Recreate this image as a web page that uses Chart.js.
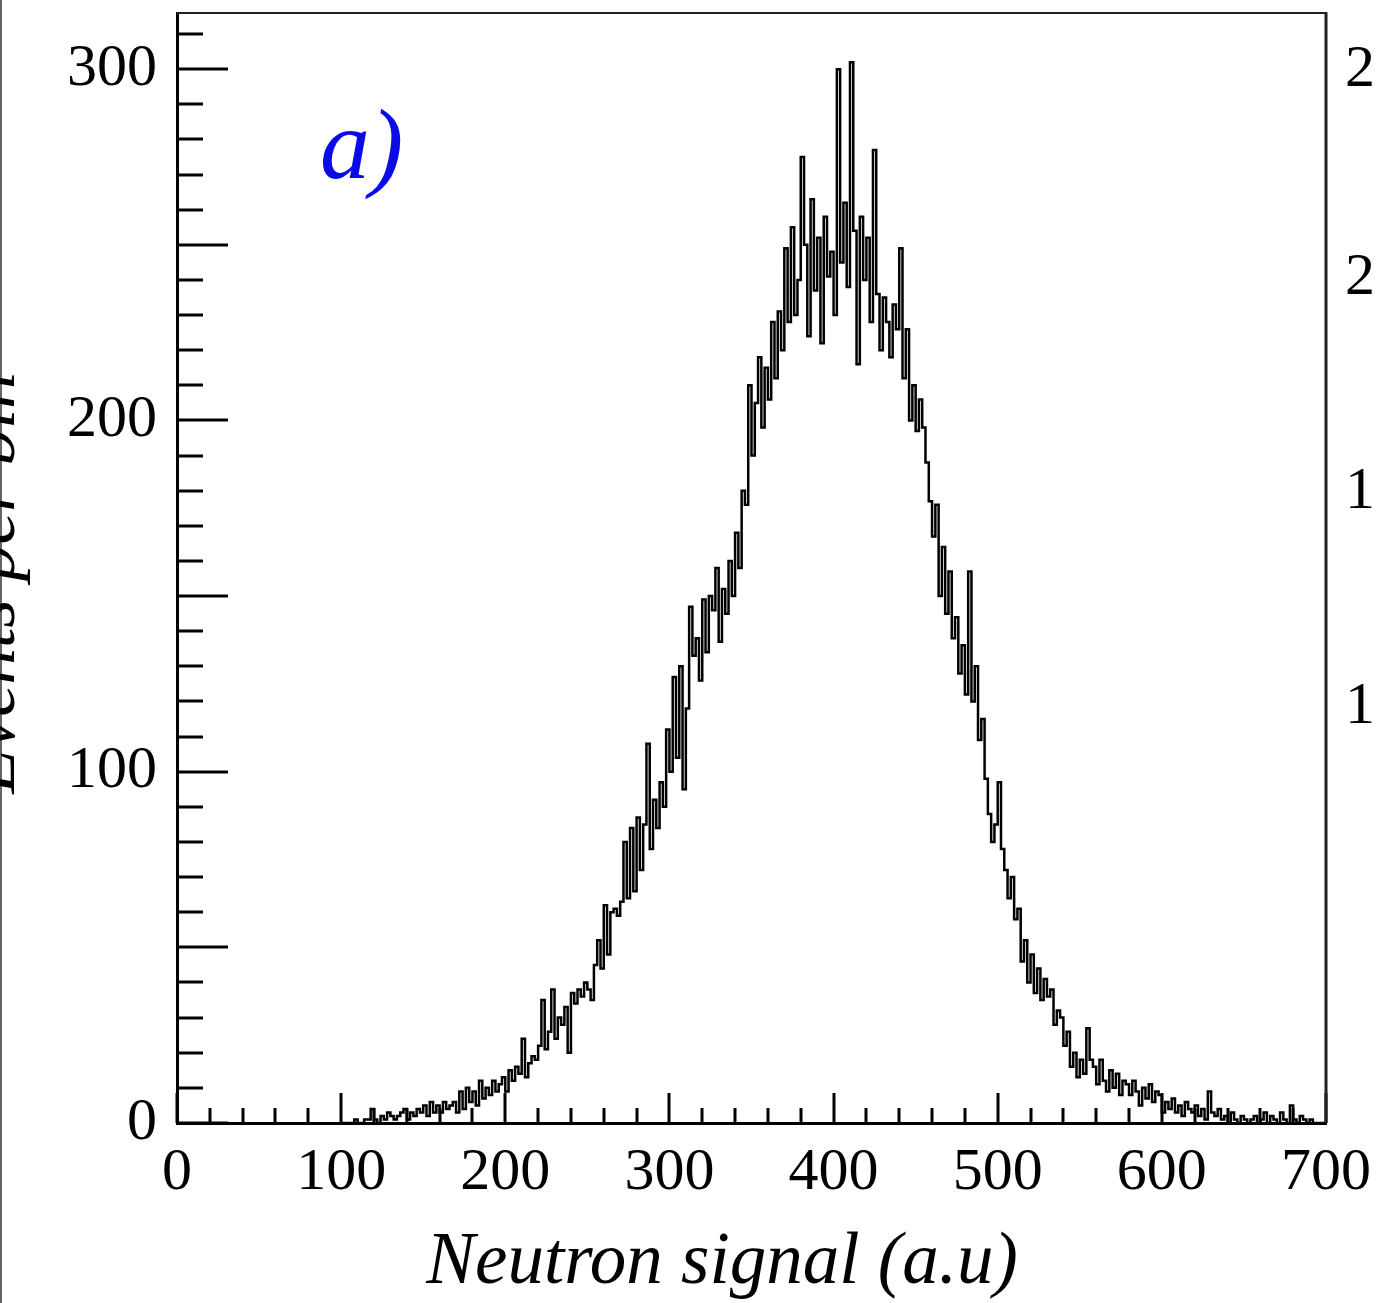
<!DOCTYPE html>
<html>
<head>
<meta charset="utf-8">
<title>Neutron signal</title>
<script src="https://cdn.jsdelivr.net/npm/chart.js@4.4.1/dist/chart.umd.min.js"></script>
<style>
    html, body { margin: 0; padding: 0; background: #fff; }
    #wrap { width: 1376px; height: 1303px; }
</style>
</head>
<body>
<div id="wrap"><canvas id="neutronChart" width="1376" height="1303"></canvas></div>
<script>
// histogram: bins of 2 a.u. starting at 100
const binStart = 100;
const binWidth = 2;
const counts = [
    0, 0, 0, 0, 0, 1, 0, 0, 1, 1,
    4, 1, 0, 2, 1, 3, 2, 1, 2, 3,
    4, 1, 3, 2, 4, 3, 5, 2, 6, 3,
    5, 3, 6, 4, 5, 6, 3, 9, 4, 10,
    6, 9, 5, 12, 7, 10, 8, 12, 9, 11,
    13, 9, 15, 12, 16, 14, 24, 13, 17, 19,
    18, 22, 35, 21, 26, 38, 24, 30, 28, 33,
    20, 37, 34, 38, 36, 40, 38, 35, 45, 52,
    44, 62, 48, 60, 61, 59, 63, 80, 64, 84,
    66, 87, 72, 85, 108, 78, 92, 84, 97, 90,
    112, 100, 127, 104, 130, 95, 118, 147, 133, 138,
    126, 149, 134, 150, 146, 158, 137, 152, 145, 160,
    150, 168, 158, 180, 176, 210, 190, 205, 218, 198,
    215, 206, 228, 212, 231, 220, 249, 228, 255, 230,
    240, 275, 250, 224, 263, 237, 252, 222, 258, 241,
    248, 230, 300, 245, 262, 238, 302, 254, 216, 258,
    240, 252, 228, 277, 236, 220, 235, 228, 218, 233,
    226, 249, 212, 226, 200, 210, 197, 206, 198, 188,
    177, 167, 176, 150, 164, 145, 157, 138, 144, 128,
    136, 122, 157, 120, 130, 109, 115, 98, 88, 80,
    85, 97, 78, 72, 64, 70, 58, 61, 46, 52,
    40, 48, 37, 44, 35, 41, 36, 38, 28, 32,
    30, 22, 26, 16, 20, 13, 18, 14, 27, 18,
    16, 11, 18, 12, 9, 15, 10, 14, 8, 12,
    11, 8, 12, 9, 5, 10, 7, 11, 6, 9,
    8, 3, 6, 4, 7, 3, 5, 2, 6, 4,
    3, 5, 2, 4, 1, 9, 3, 2, 4, 1,
    2, 0, 3, 1, 0, 2, 1, 0, 1, 2,
    0, 1, 3, 0, 2, 1, 0, 3, 1, 0,
    5, 1, 0, 2, 1, 0, 1, 0, 0, 0
];
const xTickLabels = ["0", "100", "200", "300", "400", "500", "600", "700"];
const yTickLabels = ["0", "100", "200", "300"];
// tick labels of the next panel, cut off by the right edge of the picture
const nextPanelLabels = ["250", "200", "150", "100", "50"];

const panelTag = "a)";
const xTitle = "Neutron signal (a.u)";
const yTitle = "Events per bin";

const serif = "'Liberation Serif', 'DejaVu Serif', serif";

// ROOT style frame: ticks inside the frame, titles, panel tag
const rootDecor = {
    id: "rootDecor",
    afterDraw(chart) {
        const { ctx, chartArea: area } = chart;
        const x = chart.scales.x;
        const y = chart.scales.y;

        ctx.save();

        ctx.strokeStyle = "#000";
        ctx.lineWidth = 3;
        ctx.beginPath();
        for (let v = 0; v <= 310; v += 10) {
            let py = Math.round(y.getPixelForValue(v));
            let len = v % 50 === 0 ? 51 : 26;
            ctx.moveTo(area.left, py);
            ctx.lineTo(area.left + len, py);
        }
        for (let v = 0; v <= 700; v += 20) {
            let px = Math.round(x.getPixelForValue(v));
            let len = v % 100 === 0 ? 30 : 15;
            ctx.moveTo(px, area.bottom);
            ctx.lineTo(px, area.bottom - len);
        }
        ctx.stroke();

        ctx.strokeStyle = "#222";
        ctx.lineWidth = 2;
        ctx.beginPath();
        ctx.moveTo(area.left, area.top);
        ctx.lineTo(area.right, area.top);
        ctx.stroke();
        ctx.lineWidth = 3;
        ctx.beginPath();
        ctx.moveTo(area.right, area.top - 1);
        ctx.lineTo(area.right, area.bottom);
        ctx.stroke();

        // left edge of the picture
        ctx.fillStyle = "#666";
        ctx.fillRect(0, 0, 2, chart.height);

        ctx.fillStyle = "#0b0be8";
        ctx.font = "italic 100px " + serif;
        ctx.textAlign = "left";
        ctx.textBaseline = "alphabetic";
        ctx.fillText(panelTag, 320, 178);

        ctx.fillStyle = "#000";
        ctx.font = "italic 73px " + serif;
        ctx.textAlign = "center";
        ctx.fillText(xTitle, 722, 1283);

        ctx.save();
        ctx.translate(14, 583);
        ctx.rotate(-Math.PI / 2);
        ctx.fillText(yTitle, 0, 0);
        ctx.restore();

        ctx.font = "60px " + serif;
        ctx.textAlign = "right";
        ctx.textBaseline = "middle";
        [70, 278, 492, 707, 925].forEach((py, i) => {
            ctx.fillText(nextPanelLabels[i], 1435, py);
        });

        ctx.restore();
    }
};

// scales keep no extra room for overhanging labels, the frame is fixed
function fixBox(size) {
    return (scale) => {
        if (scale.isHorizontal()) {
            scale.height = size;
        } else {
            scale.width = size;
        }
        scale.paddingTop = 0;
        scale.paddingBottom = 0;
        scale.paddingLeft = 0;
        scale.paddingRight = 0;
    };
}

let points = counts.map((c, i) => ({ x: binStart + i * binWidth, y: c }));
points.push({ x: binStart + counts.length * binWidth, y: counts[counts.length - 1] });

new Chart(document.getElementById("neutronChart").getContext("2d"), {
    type: "line",
    data: {
        datasets: [{
            data: points,
            stepped: "after",
            borderColor: "#000",
            borderWidth: 2.5,
            pointRadius: 0,
            fill: false,
            tension: 0
        }]
    },
    options: {
        responsive: false,
        animation: false,
        events: [],
        layout: { padding: { top: 13, right: 50, left: 0, bottom: 0 } },
        plugins: { legend: { display: false }, tooltip: { enabled: false } },
        scales: {
            x: {
                type: "linear",
                min: 0,
                max: 700,
                grid: { display: false, drawTicks: false },
                border: { display: true, color: "#000", width: 3 },
                ticks: {
                    stepSize: 100,
                    includeBounds: false,
                    maxRotation: 0,
                    autoSkip: false,
                    padding: 14,
                    color: "#000",
                    font: { family: serif, size: 60 },
                    callback: (v) => xTickLabels[Math.round(v / 100)]
                },
                afterFit: fixBox(180)
            },
            y: {
                type: "linear",
                min: 0,
                max: 316,
                grid: { display: false, drawTicks: false },
                border: { display: true, color: "#000", width: 3 },
                ticks: {
                    stepSize: 100,
                    includeBounds: false,
                    autoSkip: false,
                    padding: 20,
                    color: "#000",
                    font: { family: serif, size: 60 },
                    callback: (v) => yTickLabels[Math.round(v / 100)]
                },
                afterFit: fixBox(177)
            }
        }
    },
    plugins: [rootDecor]
});
</script>
</body>
</html>
